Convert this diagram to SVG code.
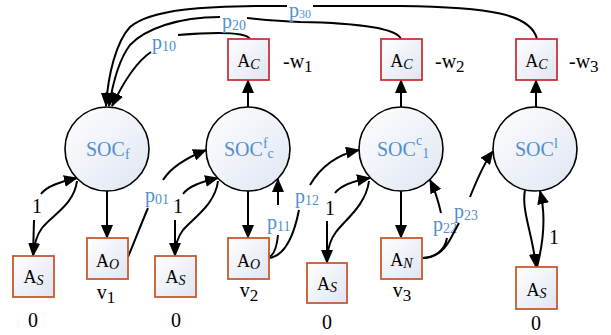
<svg xmlns="http://www.w3.org/2000/svg" width="611" height="335" viewBox="0 0 611 335" font-family="'Liberation Serif', 'Times New Roman', serif">
<defs>
<linearGradient id="g" x1="0" y1="0" x2="1" y2="1">
<stop offset="0" stop-color="#ffffff"/>
<stop offset="1" stop-color="#dfe5f2"/>
</linearGradient>
<marker id="ah" viewBox="0 0 14 12" markerWidth="14" markerHeight="12" refX="13" refY="6" orient="auto" markerUnits="userSpaceOnUse">
<path d="M0,0 L14,6 L0,12 z" fill="#000"/>
</marker>
</defs>
<style>
.soc{fill:url(#g);stroke:#000;stroke-width:1.6}
.bc{fill:url(#g);stroke:#c8353a;stroke-width:1.8}
.bs{fill:url(#g);stroke:#c65a30;stroke-width:1.8}
.t{font-family:'Liberation Serif','Times New Roman',serif;fill:#000;font-size:20px}
.b{fill:#4f8fcf}
.c{fill:none;stroke:#000;stroke-width:2}
.a{font-size:18px}
.s{font-size:14px}
.i{font-style:italic}
</style>

<g id="connectors">
<path class="c" d="M248,107 L248,80" marker-end="url(#ah)"/>
<path class="c" d="M401,107 L401,80" marker-end="url(#ah)"/>
<path class="c" d="M536,107 L536,80" marker-end="url(#ah)"/>
<path class="c" d="M107,191 L107,238" marker-end="url(#ah)"/>
<path class="c" d="M248,191 L248,238" marker-end="url(#ah)"/>
<path class="c" d="M401,191 L401,238" marker-end="url(#ah)"/>
<path class="c" d="M250,39 C246,32 215,32 178,35 M151,52 C136,62 122,85 112,106" marker-end="url(#ah)"/>
<path class="c" d="M401,39 C397,29 360,23 300,22 C275,21 258,19 247,18 M220,17 C178,17 145,29 130,45 C120,58 113,82 109,106" marker-end="url(#ah)"/>
<path class="c" d="M537,39 C531,14 490,7 400,6 L313,6 M287,6 C200,5 150,10 130,27 C116,42 108,75 106,106" marker-end="url(#ah)"/>
<text class="t b" x="152" y="49">p<tspan class="s" dy="2">10</tspan></text>
<text class="t b" x="222" y="28">p<tspan class="s" dy="2">20</tspan></text>
<text class="t b" x="289" y="17" font-size="16">p<tspan font-size="12" dy="1">30</tspan></text>
<path class="c" d="M33,256 L34,220 M41,194 C47,186 60,182 77,178" marker-end="url(#ah)"/>
<path class="c" d="M77,181 C74,205 52,215 42,228 C36,236 34,245 33,256" marker-end="url(#ah)"/>
<text class="t" x="37" y="213" text-anchor="middle">1</text>
<path class="c" d="M175,256 L175,220 M183,194 C189,186 201,182 218,178" marker-end="url(#ah)"/>
<path class="c" d="M218,181 C215,205 193,218 183,230 C177,238 175,246 175,256" marker-end="url(#ah)"/>
<text class="t" x="178" y="213" text-anchor="middle">1</text>
<path class="c" d="M327,263 L327,221 M335,193 C341,185 353,181 370,178" marker-end="url(#ah)"/>
<path class="c" d="M369,181 C366,205 345,220 336,232 C330,240 327,250 327,263" marker-end="url(#ah)"/>
<text class="t" x="330" y="215" text-anchor="middle">1</text>
<path class="c" d="M525,190 C521,210 533,235 536,267" marker-end="url(#ah)"/>
<path class="c" d="M537,267 C544,240 546,215 540,191" marker-end="url(#ah)"/>
<text class="t" x="554" y="244" text-anchor="middle">1</text>
<path class="c" d="M128,257 C135,240 142,222 148,208 M163,180 C171,167 186,158 206,150" marker-end="url(#ah)"/>
<text class="t b" x="145" y="202">p<tspan class="s" dy="2">01</tspan></text>
<path class="c" d="M269,257 C274,255 277,245 278,235 M278,205 L278,179" marker-end="url(#ah)"/>
<text class="t b" x="267" y="229">p<tspan class="s" dy="2">11</tspan></text>
<path class="c" d="M269,258 C285,256 294,235 299,210 M310,185 C320,168 335,155 359,150" marker-end="url(#ah)"/>
<text class="t b" x="295" y="203">p<tspan class="s" dy="2">12</tspan></text>
<path class="c" d="M422,258 C435,258 445,250 447,238 M441,213 C438,200 436,192 430,180" marker-end="url(#ah)"/>
<text class="t b" x="433" y="231">p<tspan class="s" dy="2">22</tspan></text>
<path class="c" d="M422,258 C438,258 446,248 452,236 L459,223 M470,197 C476,182 484,163 493,151" marker-end="url(#ah)"/>
<text class="t b" x="454" y="218">p<tspan class="s" dy="2">23</tspan></text>
</g>

<g id="soc_f">
<circle class="soc" cx="107" cy="149" r="42"/>
<text class="t b" x="86" y="156">SOC<tspan class="s" dy="3">f</tspan></text>
</g>
<g id="soc_fc">
<circle class="soc" cx="248" cy="149" r="42"/>
<text class="t b" x="224" y="156">SOC<tspan class="s" dy="-8">f</tspan><tspan class="s" dy="10">c</tspan></text>
</g>
<g id="soc_c1">
<circle class="soc" cx="401" cy="149" r="42"/>
<text class="t b" x="377" y="156">SOC<tspan class="s" dy="-11">c</tspan><tspan class="s" dy="13">1</tspan></text>
</g>
<g id="soc_l">
<circle class="soc" cx="535" cy="149" r="42"/>
<text class="t b" x="515" y="156">SOC<tspan class="s" dy="-8">l</tspan></text>
</g>

<g id="ac1">
<rect class="bc" x="228" y="39" width="41" height="41"/>
<text class="t a" x="248.5" y="67" text-anchor="middle">A<tspan class="s i" dy="2">C</tspan></text>
<text class="t" x="283" y="68">-w<tspan font-size="17" dy="4">1</tspan></text>
</g>
<g id="ac2">
<rect class="bc" x="381" y="39" width="41" height="41"/>
<text class="t a" x="401.5" y="67" text-anchor="middle">A<tspan class="s i" dy="2">C</tspan></text>
<text class="t" x="435" y="68">-w<tspan font-size="17" dy="4">2</tspan></text>
</g>
<g id="ac3">
<rect class="bc" x="516" y="39" width="41" height="41"/>
<text class="t a" x="536.5" y="67" text-anchor="middle">A<tspan class="s i" dy="2">C</tspan></text>
<text class="t" x="569" y="68">-w<tspan font-size="17" dy="4">3</tspan></text>
</g>

<g id="as1">
<rect class="bs" x="13" y="256" width="41" height="41"/>
<text class="t a" x="33.5" y="283" text-anchor="middle">A<tspan class="s i" dy="2">S</tspan></text>
<text class="t" x="33" y="327" text-anchor="middle" font-size="22">0</text>
</g>
<g id="ao1">
<rect class="bs" x="87" y="238" width="41" height="41"/>
<text class="t a" x="107.5" y="267" text-anchor="middle">A<tspan class="s i" dy="2">O</tspan></text>
<text class="t" x="106" y="299" text-anchor="middle">v<tspan font-size="17" dy="4">1</tspan></text>
</g>
<g id="as2">
<rect class="bs" x="155" y="256" width="41" height="41"/>
<text class="t a" x="175.5" y="283" text-anchor="middle">A<tspan class="s i" dy="2">S</tspan></text>
<text class="t" x="176" y="327" text-anchor="middle" font-size="22">0</text>
</g>
<g id="ao2">
<rect class="bs" x="228" y="238" width="41" height="41"/>
<text class="t a" x="248.5" y="267" text-anchor="middle">A<tspan class="s i" dy="2">O</tspan></text>
<text class="t" x="249" y="297" text-anchor="middle">v<tspan font-size="17" dy="4">2</tspan></text>
</g>
<g id="as3">
<rect class="bs" x="307" y="263" width="40" height="40"/>
<text class="t a" x="327" y="290" text-anchor="middle">A<tspan class="s i" dy="2">S</tspan></text>
<text class="t" x="327" y="329" text-anchor="middle" font-size="22">0</text>
</g>
<g id="an">
<rect class="bs" x="381" y="238" width="41" height="41"/>
<text class="t a" x="401.5" y="266" text-anchor="middle">A<tspan class="s i" dy="2">N</tspan></text>
<text class="t" x="402" y="297" text-anchor="middle">v<tspan font-size="17" dy="4">3</tspan></text>
</g>
<g id="as4">
<rect class="bs" x="516" y="267" width="41" height="42"/>
<text class="t a" x="536.5" y="296" text-anchor="middle">A<tspan class="s i" dy="2">S</tspan></text>
<text class="t" x="536" y="330" text-anchor="middle" font-size="22">0</text>
</g>
</svg>
